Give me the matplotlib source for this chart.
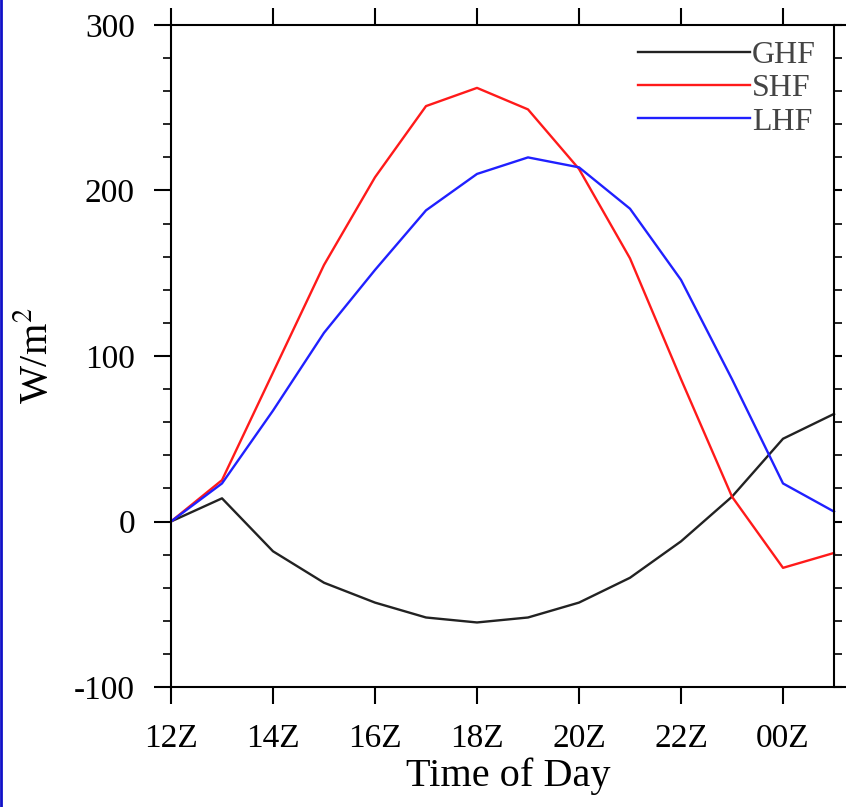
import numpy as np
import matplotlib
matplotlib.use('Agg')
import matplotlib.pyplot as plt
from matplotlib.lines import Line2D
from matplotlib.ticker import MultipleLocator

plt.rcParams['font.family'] = ['Liberation Serif', 'DejaVu Serif']
plt.rcParams['mathtext.fontset'] = 'stix'
plt.rcParams['axes.unicode_minus'] = False

# hours since 12Z
hours = np.arange(0, 14)
ghf = [0, 14, -18, -37, -49, -58, -61, -58, -49, -34, -12, 15, 50, 65]
shf = [0, 25, 90, 155, 208, 251, 262, 249, 213, 159, 86, 15, -28, -19]
lhf = [0, 23, 67, 114, 152, 188, 210, 220, 214, 189, 146, 86, 23, 6]

xtick_pos = [0, 2, 4, 6, 8, 10, 12]
xtick_labels = ['12Z', '14Z', '16Z', '18Z', '20Z', '22Z', '00Z']

fig = plt.figure(figsize=(8.46, 8.07), dpi=100)
ax = fig.add_axes([171 / 846, 120 / 807, 675 / 846, 662 / 807])

ax.plot(hours, ghf, color='#222222', lw=1.7, label='GHF')
ax.plot(hours, shf, color='#ff1a1a', lw=1.7, label='SHF')
ax.plot(hours, lhf, color='#2020ff', lw=1.7, label='LHF')

ax.set_xlim(0, 675 / 51)
ax.set_ylim(-100, 300)

# right axis line sits at 01Z, not at the axes edge
ax.spines['right'].set_position(('data', 13))
for s in ax.spines.values():
    s.set_linewidth(1.5)

ax.set_xticks(xtick_pos)
ax.set_xticklabels(xtick_labels)
ax.yaxis.set_major_locator(MultipleLocator(100))
ax.yaxis.set_minor_locator(MultipleLocator(20))

ax.tick_params(axis='x', which='major', direction='out', length=12, width=1.5,
               top=True, bottom=True, labelsize=24, pad=14)
ax.tick_params(axis='y', which='major', direction='out', length=12, width=1.5,
               left=True, right=True, labelsize=24, pad=14)
ax.tick_params(axis='y', which='minor', direction='out', length=6, width=1.2,
               left=True, right=True)
# right side ticks are all short
for t in ax.yaxis.get_major_ticks():
    t.tick2line.set_markersize(6)

ax.set_xlabel('Time of Day', fontsize=29, labelpad=3)
ax.set_ylabel('W/m$^2$', fontsize=29, labelpad=13)

leg = ax.legend(loc='upper right', bbox_to_anchor=(0.955, 0.976), frameon=False,
                fontsize=23, handlelength=3.5, handletextpad=0.05,
                labelspacing=0.12, borderpad=0, borderaxespad=0)
for txt in leg.get_texts():
    txt.set_color('#444444')

fig.add_artist(Line2D([0.0015, 0.0015], [0, 1], transform=fig.transFigure,
                      color='#1010c8', lw=2))

fig.savefig('out.png', dpi=100)
